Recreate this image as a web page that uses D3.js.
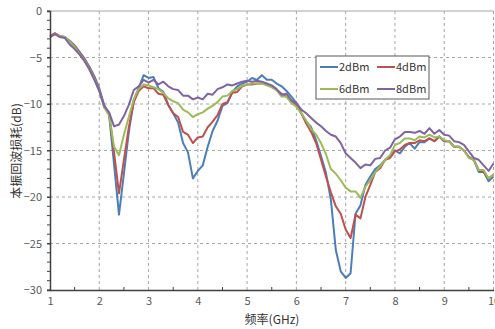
<!DOCTYPE html>
<html>
<head>
<meta charset="utf-8">
<script src="https://d3js.org/d3.v7.min.js"></script>
<style>
  body { margin: 0; background: #fff; }
  text { font-family: "Noto Sans CJK SC", "DejaVu Sans", sans-serif; }
</style>
</head>
<body>
<div class="chart"></div>
<script>
// LO return loss vs frequency, four drive levels

var freq = [1.0, 1.1, 1.2, 1.3, 1.4, 1.5, 1.6, 1.7, 1.8, 1.9,
    2.0, 2.1, 2.2, 2.3, 2.4, 2.5, 2.6, 2.7, 2.8, 2.9,
    3.0, 3.1, 3.2, 3.3, 3.4, 3.5, 3.6, 3.7, 3.8, 3.9,
    4.0, 4.1, 4.2, 4.3, 4.4, 4.5, 4.6, 4.7, 4.8, 4.9,
    5.0, 5.1, 5.2, 5.3, 5.4, 5.5, 5.6, 5.7, 5.8, 5.9,
    6.0, 6.1, 6.2, 6.3, 6.4, 6.5, 6.6, 6.7, 6.8, 6.9,
    7.0, 7.1, 7.2, 7.3, 7.4, 7.5, 7.6, 7.7, 7.8, 7.9,
    8.0, 8.1, 8.2, 8.3, 8.4, 8.5, 8.6, 8.7, 8.8, 8.9,
    9.0, 9.1, 9.2, 9.3, 9.4, 9.5, 9.6, 9.7, 9.8, 9.9, 10.0];

var rl2dBm = [-2.7, -2.4, -2.7, -2.8, -3.2, -3.7, -4.4, -5.1, -6.0, -7.0,
    -8.3, -10.1, -11.2, -16.5, -21.9, -17.5, -13.0, -9.6, -8.3, -6.9,
    -7.2, -7.1, -8.3, -8.7, -10.1, -11.0, -12.0, -14.2, -15.2, -18.0,
    -17.2, -16.6, -14.6, -12.9, -11.8, -10.2, -9.9, -8.7, -8.1, -7.8,
    -7.6, -7.2, -7.4, -6.9, -7.4, -7.4, -7.8, -8.1, -8.6, -9.2,
    -9.9, -11.0, -11.9, -12.5, -13.9, -15.6, -17.4, -20.3, -25.7, -28.0,
    -28.7, -28.2, -21.8, -20.9, -18.7, -17.8, -17.0, -16.6, -16.0, -15.7,
    -15.0, -15.3, -14.6, -14.2, -14.8, -14.1, -14.1, -13.7, -14.0, -13.5,
    -14.0, -14.0, -14.6, -14.6, -15.0, -15.7, -16.0, -17.3, -17.3, -18.3, -17.8];

var rl4dBm = [-2.7, -2.4, -2.7, -2.8, -3.3, -3.8, -4.5, -5.2, -6.1, -7.2,
    -8.5, -10.3, -11.0, -15.2, -19.6, -16.0, -12.5, -9.8, -8.6, -8.1,
    -8.3, -8.3, -8.9, -9.0, -10.1, -11.0, -11.4, -13.0, -13.3, -14.2,
    -13.6, -13.5, -12.5, -11.9, -11.2, -10.0, -9.8, -8.8, -8.7, -8.1,
    -7.9, -7.9, -7.8, -7.8, -7.9, -8.1, -8.5, -8.9, -9.2, -9.8,
    -10.1, -11.0, -12.1, -13.0, -14.2, -16.0, -17.8, -19.5, -21.0, -21.8,
    -23.5, -24.4, -21.9, -22.3, -20.0, -18.7, -17.3, -16.9, -16.0, -15.8,
    -15.1, -14.9, -14.4, -14.2, -14.2, -13.9, -14.0, -13.7, -14.0, -13.5,
    -14.0, -14.0, -14.6, -14.6, -15.0, -15.7, -16.0, -17.1, -17.3, -18.0, -17.6];

var rl6dBm = [-2.8, -2.5, -2.7, -2.8, -3.3, -3.9, -4.6, -5.3, -6.2, -7.3,
    -8.6, -10.4, -11.2, -14.6, -15.5, -13.3, -11.4, -9.5, -8.4, -7.9,
    -8.0, -8.2, -8.4, -8.8, -9.4, -9.7, -9.9, -10.6, -10.9, -11.4,
    -11.1, -10.9, -10.5, -10.2, -9.8, -9.2, -9.1, -8.6, -8.4, -8.0,
    -7.9, -7.8, -7.8, -7.8, -8.0, -8.2, -8.5, -9.2, -9.2, -9.9,
    -10.3, -11.0, -11.8, -12.7, -13.3, -14.2, -15.4, -17.0, -17.5, -18.2,
    -19.0, -19.4, -19.4, -20.1, -18.9, -18.2, -17.3, -16.7, -16.0, -15.5,
    -14.4, -14.2, -13.7, -13.7, -13.9, -13.5, -13.6, -13.3, -13.6, -13.5,
    -13.9, -14.0, -14.6, -14.6, -15.0, -15.8, -16.0, -17.1, -17.1, -18.0, -17.6];

var rl8dBm = [-2.8, -2.5, -2.8, -2.9, -3.6, -4.1, -4.7, -5.4, -6.3, -7.4,
    -8.6, -10.2, -10.9, -12.4, -12.2, -11.3, -10.1, -8.5, -8.1, -7.4,
    -7.7, -7.4, -7.9, -7.6, -8.1, -8.4, -8.5, -9.1, -9.1, -9.5,
    -9.3, -9.5, -8.9, -9.0, -8.4, -8.2, -7.9, -8.0, -7.8, -7.6,
    -7.5, -7.6, -7.5, -7.6, -7.8, -8.0, -8.4, -9.0, -8.9, -9.6,
    -9.9, -10.6, -11.0, -11.5, -12.0, -12.4, -12.9, -13.3, -13.5, -14.2,
    -15.3, -15.8, -16.3, -16.9, -16.5, -16.6, -15.9, -15.8, -15.0, -14.7,
    -13.8, -13.5, -13.0, -13.0, -13.1, -12.9, -13.2, -12.6, -13.2, -12.8,
    -13.3, -13.4, -14.0, -14.1, -14.4, -15.1, -15.8, -16.0, -16.6, -17.2, -16.4];

var seriesNames = ["2dBm", "4dBm", "6dBm", "8dBm"];
var seriesColors = ["#4a7ebb", "#c0504d", "#9bbb59", "#8064a2"];
var xTicks = [1, 2, 3, 4, 5, 6, 7, 8, 9, 10];
var yTicks = [0, -5, -10, -15, -20, -25, -30];

var svgWidth = 495;
var svgHeight = 329;

var margin = {
    top: 11,
    right: 1.5,
    bottom: 39,
    left: 50
};

var width = svgWidth - margin.left - margin.right;
var height = svgHeight - margin.top - margin.bottom;

var svg = d3.select(".chart")
    .append("svg")
    .attr("width", svgWidth)
    .attr("height", svgHeight);

var chartGroup = svg.append("g")
    .attr("transform", `translate(${margin.left}, ${margin.top})`);

var xScale = d3.scaleLinear().domain([1, 10]).range([0, width]);
var yScale = d3.scaleLinear().domain([-30, 0]).range([height, 0]);

// dashed grid
chartGroup.append("g")
    .selectAll("line")
    .data(xTicks.slice(1))
    .enter()
    .append("line")
    .attr("x1", d => xScale(d))
    .attr("x2", d => xScale(d))
    .attr("y1", 0)
    .attr("y2", height)
    .attr("stroke", "#a6a6a6")
    .attr("stroke-dasharray", "3,3");

chartGroup.append("g")
    .selectAll("line")
    .data(yTicks.slice(1, -1))
    .enter()
    .append("line")
    .attr("x1", 0)
    .attr("x2", width)
    .attr("y1", d => yScale(d))
    .attr("y2", d => yScale(d))
    .attr("stroke", "#a6a6a6")
    .attr("stroke-dasharray", "3,3");

// top border
chartGroup.append("line")
    .attr("x1", 0).attr("x2", width)
    .attr("y1", 0).attr("y2", 0)
    .attr("stroke", "#a6a6a6");

// series lines
var allSeries = [rl2dBm, rl4dBm, rl6dBm, rl8dBm];
var line = d3.line()
    .x((d, i) => xScale(freq[i]))
    .y(d => yScale(d));

chartGroup.selectAll(".series")
    .data(allSeries)
    .enter()
    .append("path")
    .attr("class", "series")
    .attr("d", d => line(d))
    .attr("fill", "none")
    .attr("stroke", (d, i) => seriesColors[i])
    .attr("stroke-width", 2)
    .attr("stroke-linejoin", "round");

// axes
var leftAxis = d3.axisLeft(yScale)
    .tickValues(yTicks)
    .tickSize(3)
    .tickPadding(5)
    .tickFormat(d => d === 0 ? "0" : "\u2212" + Math.abs(d));

var bottomAxis = d3.axisBottom(xScale)
    .tickValues(xTicks)
    .tickSize(0)
    .tickPadding(7);

var yAxis = chartGroup.append("g").call(leftAxis);
var xAxis = chartGroup.append("g")
    .attr("transform", `translate(0, ${height})`)
    .call(bottomAxis);

[yAxis, xAxis].forEach(function (ax) {
    ax.select(".domain").attr("stroke", "#404040").attr("stroke-width", 1.5);
    ax.selectAll(".tick line").attr("stroke", "#404040");
    ax.selectAll(".tick text")
        .attr("fill", "#595959")
        .style("font-size", "11px");
});

// minor ticks
chartGroup.append("g")
    .selectAll("line")
    .data(d3.range(-30, 1, 1))
    .enter()
    .append("line")
    .attr("x1", -3)
    .attr("x2", 0)
    .attr("y1", d => yScale(d))
    .attr("y2", d => yScale(d))
    .attr("stroke", "#404040");

chartGroup.append("g")
    .selectAll("line")
    .data(d3.range(1.5, 10, 1))
    .enter()
    .append("line")
    .attr("x1", d => xScale(d))
    .attr("x2", d => xScale(d))
    .attr("y1", height - 3)
    .attr("y2", height)
    .attr("stroke", "#404040");

// axis titles
svg.append("text")
    .attr("transform", "translate(21, 151) rotate(-90)")
    .attr("text-anchor", "middle")
    .attr("fill", "#333")
    .style("font-size", "12px")
    .text("本振回波损耗(dB)");

svg.append("text")
    .attr("x", 272)
    .attr("y", 324)
    .attr("text-anchor", "middle")
    .attr("fill", "#333")
    .style("font-size", "12px")
    .text("频率(GHz)");

// legend
var legend = svg.append("g").attr("transform", "translate(316, 56)");

legend.append("rect")
    .attr("width", 113)
    .attr("height", 43)
    .attr("fill", "#fff")
    .attr("stroke", "#595959");

var legendItems = legend.selectAll(".item")
    .data(seriesNames)
    .enter()
    .append("g")
    .attr("class", "item")
    .attr("transform", (d, i) => `translate(${4 + (i % 2) * 57}, ${11 + Math.floor(i / 2) * 22})`);

legendItems.append("line")
    .attr("x1", 0).attr("x2", 18)
    .attr("y1", 0).attr("y2", 0)
    .attr("stroke", (d, i) => seriesColors[i])
    .attr("stroke-width", 2);

legendItems.append("text")
    .attr("x", 19)
    .attr("y", 4)
    .attr("fill", "#333")
    .style("font-size", "11px")
    .text(d => d);
</script>
</body>
</html>
